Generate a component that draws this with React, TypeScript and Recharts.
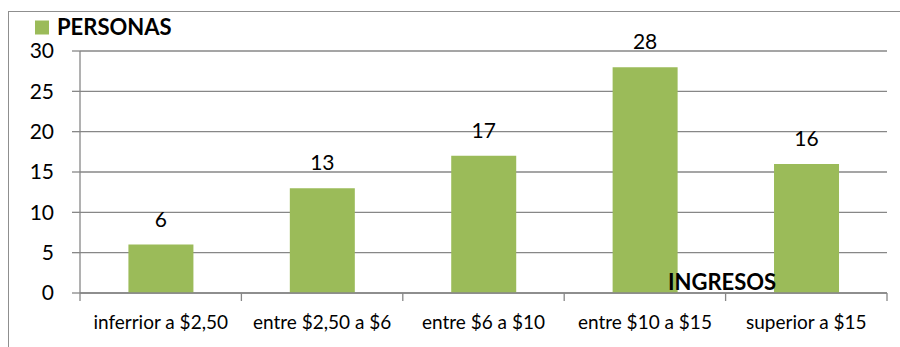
import React from 'react';
import { BarChart, Bar, XAxis, YAxis, CartesianGrid, LabelList, Legend } from 'recharts';

const categories = ['inferrior a $2,50', 'entre $2,50 a $6', 'entre $6 a $10', 'entre $10 a $15', 'superior a $15'];
const personas = [6, 13, 17, 28, 16];
const yTicks = [0, 5, 10, 15, 20, 25, 30];
const seriesName = 'PERSONAS';
const axisTitle = 'INGRESOS';

const data = categories.map((c, i) => ({ categoria: c, personas: personas[i] }));

const GREEN = '#9BBB59';
const GRID = '#878787';
const TICK_SIZE = 8;
const TICK_MARGIN = 15;

const LegendContent = (props: any) => {
  const item = (props.payload && props.payload[0]) || { value: seriesName, color: GREEN };
  return (
    <svg width={300} height={40} style={{ display: 'block' }}>
      <rect x={35} y={20.5} width={14} height={14} fill={GREEN} />
      <text x={57} y={34.5} fontSize={22} fontWeight="bold" fill="#000">{item.value}</text>
    </svg>
  );
};

const CategoryTick = (props: any) => {
  const { x, y, payload, index, visibleTicksCount } = props;
  const half = (payload && payload.offset) || 0;
  const axisY = y - TICK_SIZE - TICK_MARGIN;
  const isLast = index === (visibleTicksCount ?? categories.length) - 1;
  return (
    <g>
      <line x1={x - half} x2={x - half} y1={axisY} y2={axisY + TICK_SIZE} stroke={GRID} strokeWidth={1.3} />
      {isLast && <line x1={x + half} x2={x + half} y1={axisY} y2={axisY + TICK_SIZE} stroke={GRID} strokeWidth={1.3} />}
      <text x={x} y={y} dy="0.71em" textAnchor="middle" fontSize={19} fill="#000">{payload.value}</text>
    </g>
  );
};

export default function App() {
  return (
    <div style={{ position: 'absolute', left: 0, top: 0, width: 900, height: 347, background: '#fff', overflow: 'hidden', fontFamily: 'Lato, sans-serif' }}>
      <div style={{ position: 'absolute', left: 7.5, top: 10.5, width: 1000, height: 1000, border: '1.5px solid #8f8f8f' }} />
      <div style={{ position: 'absolute', left: 0, top: 0 }}>
        <BarChart width={900} height={347} data={data} margin={{ top: 51, right: 13, bottom: 0, left: 0 }} barCategoryGap="30%">
          <CartesianGrid vertical={false} stroke={GRID} strokeWidth={1.3} />
          <XAxis dataKey="categoria" height={54} tickLine={false} axisLine={{ stroke: GRID, strokeWidth: 1.3 }} interval={0}
            tickSize={TICK_SIZE} tickMargin={TICK_MARGIN} tick={<CategoryTick />} />
          <YAxis domain={[0, 30]} ticks={yTicks} width={80} interval={0} tickSize={8} tickMargin={18}
            tick={{ fontSize: 21, fill: '#000' }} tickLine={{ stroke: GRID, strokeWidth: 1.3 }} axisLine={{ stroke: GRID, strokeWidth: 1.3 }} />
          <Legend layout="horizontal" verticalAlign="middle" align="center" content={<LegendContent />}
            wrapperStyle={{ left: 0, top: 0, width: 300, height: 40 }} />
          <Bar dataKey="personas" name={seriesName} fill={GREEN} isAnimationActive={false}>
            <LabelList dataKey="personas" position="top" offset={18} fill="#000" fontSize={21} />
          </Bar>
        </BarChart>
      </div>
      <svg width={900} height={347} style={{ position: 'absolute', left: 0, top: 0, pointerEvents: 'none' }}>
        <text x={668} y={289.5} fontSize={22} fontWeight="bold" fill="#000">{axisTitle}</text>
      </svg>
    </div>
  );
}
